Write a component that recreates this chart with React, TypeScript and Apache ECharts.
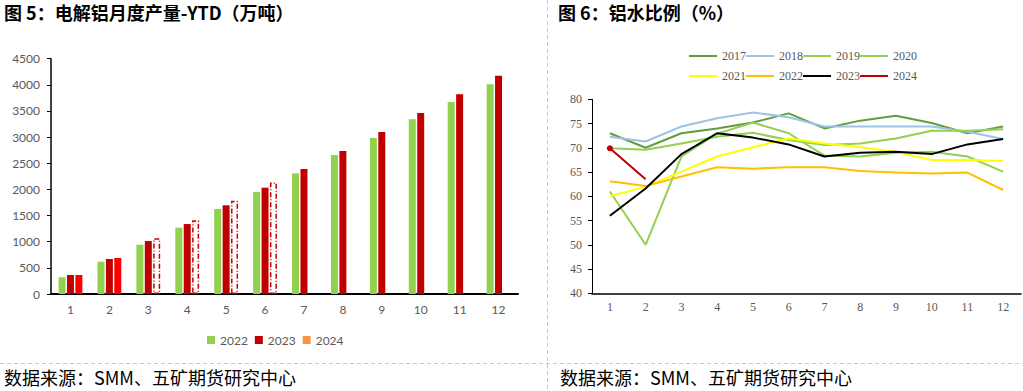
import React, { useEffect, useRef } from "react";
import * as echarts from "echarts";

const months = ["1", "2", "3", "4", "5", "6", "7", "8", "9", "10", "11", "12"];

// Left chart: electrolytic aluminium production YTD (10k tonnes)
const ytd2022 = [319, 618, 943, 1268, 1625, 1950, 2308, 2658, 2983, 3340, 3671, 4009];
const ytd2023 = [363, 669, 1013, 1338, 1696, 2033, 2390, 2734, 3097, 3461, 3818, 4174];
const ytd2024 = [363, 688, 1068, 1412, 1785, 2133];
const actualMonths2024 = 2;

// Right chart: molten aluminium ratio (%)
const ratio2017 = [73.0, 70.0, 73.0, 74.0, 75.2, 77.1, 74.0, 75.6, 76.6, 75.1, 73.0, 74.4];
const ratio2018 = [72.3, 71.3, 74.4, 76.1, 77.3, 76.3, 74.4, 74.4, 74.4, 74.4, 73.3, 71.8];
const ratio2019 = [61.0, 50.0, 68.2, 72.9, 75.2, 73.0, 68.4, 68.2, 69.0, 69.2, 68.2, 65.1];
const ratio2020 = [69.9, 69.6, 70.9, 72.3, 73.1, 71.6, 70.6, 70.9, 71.9, 73.5, 73.5, 73.8];
const ratio2021 = [60.0, 62.0, 65.1, 68.2, 70.1, 71.9, 70.9, 70.1, 69.2, 67.5, 67.5, 67.3];
const ratio2022 = [63.1, 62.1, 64.1, 66.0, 65.7, 66.0, 66.0, 65.2, 64.9, 64.7, 64.9, 61.3];
const ratio2023 = [56.0, 61.6, 68.7, 73.0, 72.1, 70.7, 68.2, 69.0, 69.2, 68.7, 70.7, 71.8];
const ratio2024 = [69.9, 63.5];

const lineYears = ["2017", "2018", "2019", "2020", "2021", "2022", "2023", "2024"];
const lineData = [ratio2017, ratio2018, ratio2019, ratio2020, ratio2021, ratio2022, ratio2023, ratio2024];
const lineColors = ["#5f9e3d", "#9dc3e6", "#92d050", "#92d050", "#ffff00", "#ffc000", "#000000", "#c00000"];

const cjk = '"Noto Sans CJK SC", sans-serif';
const gray = "#595959";
const serif = '"Liberation Serif", serif';
const linePrefix = "r";

export default function App() {
  const ref = useRef<HTMLDivElement>(null);

  useEffect(() => {
    if (!ref.current) return;
    const chart = echarts.init(ref.current, null, { renderer: "svg" });

    const bar2024 = ytd2024.map((v, i) =>
      i < actualMonths2024
        ? { value: v, itemStyle: { color: "#ff0000" } }
        : {
            value: v,
            itemStyle: {
              color: "#ffffff",
              borderColor: "#c00000",
              borderWidth: 1.5,
              borderType: [5, 2, 1, 2],
            },
          }
    );

    const lineSeries = lineYears.map((y, k) => ({
      name: linePrefix + y,
      type: "line",
      xAxisIndex: 1,
      yAxisIndex: 1,
      data:
        y === "2024"
          ? lineData[k].map((v, i) =>
              i === 0 ? { value: v, symbol: "circle", symbolSize: 6 } : { value: v, symbol: "none" }
            )
          : lineData[k],
      symbol: "none",
      showSymbol: y === "2024",
      color: lineColors[k],
      itemStyle: { color: lineColors[k] },
      lineStyle: { width: 2, color: lineColors[k] },
      z: 2 + k,
    }));

    const lineLegend = (names: string[], top: number) => ({
      data: names.map((n) => linePrefix + n),
      formatter: (n: string) => n.slice(linePrefix.length),
      left: 684,
      top,
      icon: "rect",
      itemWidth: 28,
      itemHeight: 2,
      itemGap: 0,
      textStyle: { fontFamily: serif, fontSize: 12, color: gray },
    });

    chart.setOption({
      animation: false,
      graphic: [
        {
          type: "text",
          left: 4,
          top: 3,
          style: { text: "图 5：电解铝月度产量-YTD（万吨）", font: `bold 18px ${cjk}`, fill: "#000" },
        },
        {
          type: "text",
          left: 558,
          top: 3,
          style: { text: "图 6：铝水比例（%）", font: `bold 18px ${cjk}`, fill: "#000" },
        },
        {
          type: "text",
          left: 4,
          top: 368,
          style: { text: "数据来源：SMM、五矿期货研究中心", font: `18px ${cjk}`, fill: "#000" },
        },
        {
          type: "text",
          left: 560,
          top: 368,
          style: { text: "数据来源：SMM、五矿期货研究中心", font: `18px ${cjk}`, fill: "#000" },
        },
        {
          type: "line",
          shape: { x1: 547.5, y1: 0, x2: 547.5, y2: 391 },
          style: { stroke: "#c8c8c8", lineWidth: 1, lineDash: [4, 3] },
        },
        {
          type: "line",
          shape: { x1: 0, y1: 363.5, x2: 1023, y2: 363.5 },
          style: { stroke: "#c8c8c8", lineWidth: 1, lineDash: [4, 3] },
        },
      ],
      legend: [
        {
          data: ["2022", "2023", "2024"],
          left: 202,
          top: 329,
          icon: "rect",
          itemWidth: 8,
          itemHeight: 8,
          itemGap: 7,
          textStyle: { fontFamily: "Lato", fontSize: 12, color: gray },
        },
        lineLegend(["2017", "2018", "2019", "2020"], 45),
        lineLegend(["2021", "2022", "2023", "2024"], 65),
      ],
      grid: [
        { left: 51, top: 58.7, width: 467, height: 235.3, containLabel: false },
        { left: 592, top: 99.3, width: 429, height: 194, containLabel: false },
      ],
      xAxis: [
        {
          type: "category",
          gridIndex: 0,
          data: months,
          axisLine: { lineStyle: { color: "#000", width: 2 } },
          axisTick: { show: false },
          axisLabel: { color: gray, fontFamily: "Lato", fontSize: 12, margin: 9 },
        },
        {
          type: "category",
          gridIndex: 1,
          data: months,
          axisLine: { lineStyle: { color: "#000", width: 1.5 } },
          axisTick: { show: false },
          axisLabel: { color: gray, fontFamily: serif, fontSize: 12, margin: 8 },
        },
      ],
      yAxis: [
        {
          type: "value",
          gridIndex: 0,
          min: 0,
          max: 4500,
          interval: 500,
          axisLine: { show: true, lineStyle: { color: "#000", width: 1.5 } },
          axisTick: { show: true, length: 4, lineStyle: { color: "#000" } },
          splitLine: { show: false },
          axisLabel: {
            color: gray,
            fontFamily: "Lato",
            fontSize: 12,
            margin: 11,
            formatter: (v: number) => String(v),
          },
        },
        {
          type: "value",
          gridIndex: 1,
          min: 40,
          max: 80,
          interval: 5,
          axisLine: { show: true, lineStyle: { color: "#000", width: 1 } },
          axisTick: { show: true, length: 4, lineStyle: { color: "#000" } },
          splitLine: { show: false },
          axisLabel: { color: gray, fontFamily: serif, fontSize: 12, margin: 10 },
        },
      ],
      series: [
        {
          name: "2022",
          type: "bar",
          xAxisIndex: 0,
          yAxisIndex: 0,
          data: ytd2022,
          barWidth: 7,
          barGap: "20%",
          itemStyle: { color: "#92d050" },
        },
        {
          name: "2023",
          type: "bar",
          xAxisIndex: 0,
          yAxisIndex: 0,
          data: ytd2023,
          barWidth: 7,
          barGap: "20%",
          itemStyle: { color: "#c00000" },
        },
        {
          name: "2024",
          type: "bar",
          xAxisIndex: 0,
          yAxisIndex: 0,
          data: bar2024,
          barWidth: 7,
          barGap: "20%",
          itemStyle: { color: "#f79646" },
        },
        ...lineSeries,
      ],
    });

    return () => chart.dispose();
  }, []);

  return (
    <div
      ref={ref}
      style={{ position: "absolute", left: 0, top: 0, width: 1023, height: 391, background: "#fff" }}
    />
  );
}
